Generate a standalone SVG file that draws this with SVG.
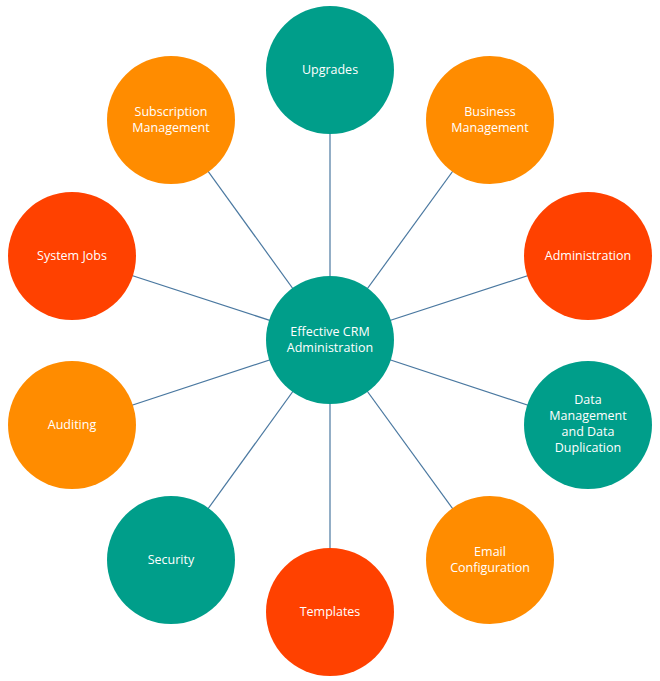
<svg xmlns="http://www.w3.org/2000/svg" width="660" height="681" viewBox="0 0 660 681">
<style>
.t{fill:#009E8A}.o{fill:#FF8C00}.r{fill:#FF4100}
text{font-family:"Open Sans","Liberation Sans",sans-serif;font-size:12.5px;fill:#fff;text-anchor:middle}
#conn line{stroke:#4A78A0;stroke-width:1.2}
</style>
<rect width="660" height="681" fill="#fff"/>
<g id="conn">
<line x1="330" y1="340" x2="330" y2="70"/>
<line x1="330" y1="340" x2="490" y2="120"/>
<line x1="330" y1="340" x2="588" y2="256"/>
<line x1="330" y1="340" x2="588" y2="425"/>
<line x1="330" y1="340" x2="490" y2="560"/>
<line x1="330" y1="340" x2="330" y2="612"/>
<line x1="330" y1="340" x2="171" y2="560"/>
<line x1="330" y1="340" x2="72" y2="425"/>
<line x1="330" y1="340" x2="72" y2="256"/>
<line x1="330" y1="340" x2="171" y2="120"/>
</g>
<g id="center"><circle class="t" cx="330" cy="340" r="64"/><text x="330" y="336">Effective CRM</text><text x="330" y="352">Administration</text></g>
<g id="upgrades"><circle class="t" cx="330" cy="70" r="64"/><text x="330" y="74">Upgrades</text></g>
<g id="business"><circle class="o" cx="490" cy="120" r="64"/><text x="490" y="116">Business</text><text x="490" y="132">Management</text></g>
<g id="administration"><circle class="r" cx="588" cy="256" r="64"/><text x="588" y="260">Administration</text></g>
<g id="data"><circle class="t" cx="588" cy="425" r="64"/><text x="588" y="404">Data</text><text x="588" y="420">Management</text><text x="588" y="436">and Data</text><text x="588" y="452">Duplication</text></g>
<g id="email"><circle class="o" cx="490" cy="560" r="64"/><text x="490" y="556">Email</text><text x="490" y="572">Configuration</text></g>
<g id="templates"><circle class="r" cx="330" cy="612" r="64"/><text x="330" y="616">Templates</text></g>
<g id="security"><circle class="t" cx="171" cy="560" r="64"/><text x="171" y="564">Security</text></g>
<g id="auditing"><circle class="o" cx="72" cy="425" r="64"/><text x="72" y="429">Auditing</text></g>
<g id="systemjobs"><circle class="r" cx="72" cy="256" r="64"/><text x="72" y="260">System Jobs</text></g>
<g id="subscription"><circle class="o" cx="171" cy="120" r="64"/><text x="171" y="116">Subscription</text><text x="171" y="132">Management</text></g>
</svg>
